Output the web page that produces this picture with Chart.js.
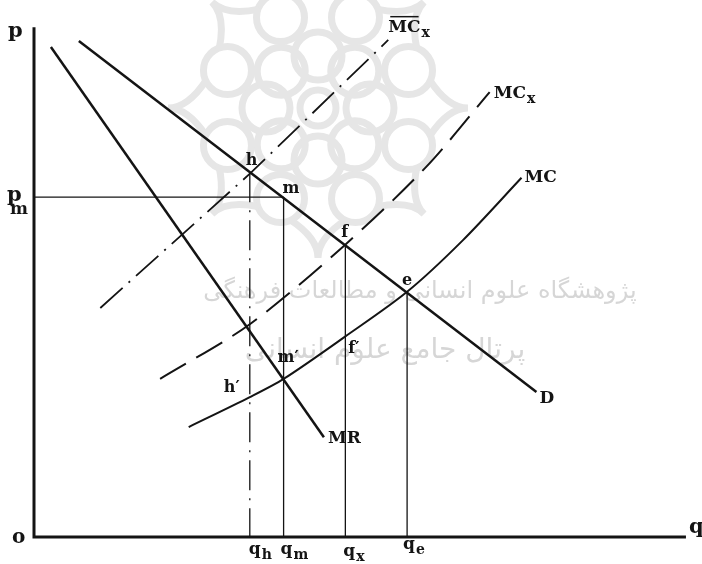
<!DOCTYPE html>
<html>
<head>
<meta charset="utf-8">
<script src="https://cdn.jsdelivr.net/npm/chart.js@4.4.1/dist/chart.umd.min.js"></script>
<style>
    html, body { margin: 0; padding: 0; background: #fff; }
    #wrap { width: 702px; height: 564px; }
</style>
</head>
<body>
<div id="wrap"><canvas id="chart" width="702" height="564"></canvas></div>
<script>
// Quantities and prices (axis units 0..100)
const qh = 33.2;
const qm = 38.4;
const qx = 47.9;
const qe = 57.4;
const pm = 67.1;

// Prices at the marked points
const hP = 72.0;     // h on D
const fP = 57.5;     // f on D
const eP = 48.2;     // e on D
const hLowP = 27.6;  // h' on MC
const mLowP = 31.2;  // m' on MC
const fLowP = 39.5;  // f' on MC

const axisTop = 100.6;
const axisRight = 100.3;

// Demand
const demandQ = [6.9, 77.3];
const demandP = [97.9, 28.6];

// Marginal revenue
const mrQ = [2.6, 44.6];
const mrP = [96.7, 19.7];

// Marginal cost
const mcQ = [23.8, 33.2, 38.4, 47.8, 57.4, 66.0, 75.0];
const mcP = [21.7, 27.6, 31.2, 39.5, 48.4, 58.6, 70.9];

// MC_x (dashed)
const mcxQ = [19.4, 33.2, 47.8, 60.3, 70.1];
const mcxP = [31.2, 42.0, 57.6, 73.0, 87.8];

// MC-bar_x (dash-dot)
const mcbarQ = [10.2, 33.3, 54.5];
const mcbarP = [45.2, 71.8, 98.1];

const pts = (xs, ys) => xs.map((x, i) => ({x: x, y: ys[i]}));

const INK = '#141414';
const DASH_DOT = [30, 8, 2, 8];

function line(data, width, extra) {
    return Object.assign({
        data: data,
        showLine: true,
        borderColor: INK,
        borderWidth: width,
        pointRadius: 0,
        fill: false,
        clip: false,
    }, extra || {});
}

const datasets = [
    // axes
    line([{x: 0, y: axisTop}, {x: 0, y: 0}, {x: axisRight, y: 0}], 3),
    line(pts(demandQ, demandP), 2.5),
    line(pts(mrQ, mrP), 2.5),
    line(pts(mcQ, mcP), 2, {tension: 0.3}),
    line(pts(mcxQ, mcxP), 2, {tension: 0.3, borderDash: [30, 12]}),
    line(pts(mcbarQ, mcbarP), 1.8, {borderDash: DASH_DOT}),
    // p_m guide
    line([{x: 0, y: pm}, {x: qm, y: pm}], 1.3),
    // verticals down to the quantity axis
    line([{x: qh, y: hP}, {x: qh, y: 0}], 1.3, {borderDash: DASH_DOT}),
    line([{x: qm, y: pm}, {x: qm, y: 0}], 1.3),
    line([{x: qx, y: fP}, {x: qx, y: 0}], 1.3),
    line([{x: qe, y: eP}, {x: qe, y: 0}], 1.3),
];

// text labels: anchor in data units, offset in pixels
const labels = [
    {t: 'p', q: 0, p: axisTop, dx: -26, dy: 10, size: 21},
    {t: 'p', sub: 'm', subBelow: true, q: 0, p: pm, dx: -27, dy: 4, size: 21},
    {t: 'o', q: 0, p: 0, dx: -22, dy: 6, size: 20},
    {t: 'q', q: axisRight, p: 0, dx: 3, dy: -4, size: 21},
    {t: 'q', sub: 'h', q: qh, p: 0, dx: -1, dy: 17, size: 17},
    {t: 'q', sub: 'm', q: qm, p: 0, dx: -3, dy: 17, size: 17},
    {t: 'q', sub: 'x', q: qx, p: 0, dx: -2, dy: 19, size: 17},
    {t: 'q', sub: 'e', q: qe, p: 0, dx: -4, dy: 12, size: 17},
    {t: 'h', q: qh, p: hP, dx: -4, dy: -7, size: 16},
    {t: 'm', q: qm, p: pm, dx: -1, dy: -4, size: 16},
    {t: 'f', q: qx, p: fP, dx: -4, dy: -9, size: 16},
    {t: 'e', q: qe, p: eP, dx: -5, dy: -8, size: 16},
    {t: 'h\u2032', q: qh, p: hLowP, dx: -26, dy: -5, size: 16},
    {t: 'm\u2032', q: qm, p: mLowP, dx: -6, dy: -17, size: 16},
    {t: 'f\u2032', q: qx, p: fLowP, dx: 3, dy: 16, size: 16},
    {t: 'MR', q: mrQ[1], p: mrP[1], dx: 4, dy: 6, size: 17},
    {t: 'D', q: demandQ[1], p: demandP[1], dx: 3, dy: 11, size: 17},
    {t: 'MC', q: mcQ[mcQ.length - 1], p: mcP[mcP.length - 1], dx: 3, dy: 4, size: 17},
    {t: 'MC', sub: 'x', q: mcxQ[mcxQ.length - 1], p: mcxP[mcxP.length - 1], dx: 4, dy: 6, size: 17},
    {t: 'MC', sub: 'x', bar: true, q: mcbarQ[mcbarQ.length - 1], p: mcbarP[mcbarP.length - 1], dx: 0, dy: -8, size: 17},
];

const SERIF = '"DejaVu Serif", "Liberation Serif", serif';

// faint watermark of the source scan
const watermark = {
    id: 'watermark',
    beforeDatasetsDraw(chart) {
        const ctx = chart.ctx;
        ctx.save();
        ctx.strokeStyle = '#e6e6e6';
        ctx.lineWidth = 7;
        const cx = 318, cy = 108;
        for (let i = 0; i < 8; i++) {
            const a = i * Math.PI / 4;
            ctx.beginPath();
            ctx.arc(cx + Math.cos(a) * 52, cy + Math.sin(a) * 52, 24, 0, Math.PI * 2);
            ctx.stroke();
            const b = a + Math.PI / 8;
            ctx.beginPath();
            ctx.arc(cx + Math.cos(b) * 98, cy + Math.sin(b) * 98, 24, 0, Math.PI * 2);
            ctx.stroke();
            // pointed tips
            ctx.beginPath();
            ctx.moveTo(cx + Math.cos(a - 0.25) * 115, cy + Math.sin(a - 0.25) * 115);
            ctx.quadraticCurveTo(cx + Math.cos(a) * 130, cy + Math.sin(a) * 130,
                cx + Math.cos(a) * 150, cy + Math.sin(a) * 150);
            ctx.quadraticCurveTo(cx + Math.cos(a) * 130, cy + Math.sin(a) * 130,
                cx + Math.cos(a + 0.25) * 115, cy + Math.sin(a + 0.25) * 115);
            ctx.stroke();
        }
        ctx.beginPath();
        ctx.arc(cx, cy, 18, 0, Math.PI * 2);
        ctx.stroke();

        ctx.fillStyle = '#d6d6d6';
        ctx.textAlign = 'center';
        ctx.textBaseline = 'alphabetic';
        ctx.direction = 'rtl';
        ctx.font = '24px "DejaVu Sans", sans-serif';
        ctx.fillText('پژوهشگاه علوم انسانی و مطالعات فرهنگی', 420, 298);
        ctx.font = '28px "DejaVu Sans", sans-serif';
        ctx.fillText('پرتال جامع علوم انسانی', 385, 358);
        ctx.restore();
    },
};

const textLabels = {
    id: 'textLabels',
    afterDatasetsDraw(chart) {
        const ctx = chart.ctx;
        const xs = chart.scales.x;
        const ys = chart.scales.y;
        ctx.save();
        ctx.fillStyle = INK;
        ctx.strokeStyle = INK;
        ctx.textBaseline = 'alphabetic';
        ctx.textAlign = 'left';
        labels.forEach((l) => {
            const x = xs.getPixelForValue(l.q) + l.dx;
            const y = ys.getPixelForValue(l.p) + l.dy;
            ctx.font = 'bold ' + l.size + 'px ' + SERIF;
            ctx.fillText(l.t, x, y);
            const w = ctx.measureText(l.t).width;
            if (l.bar) {
                ctx.lineWidth = 1.5;
                ctx.beginPath();
                ctx.moveTo(x + 2, y - l.size * 0.9);
                ctx.lineTo(x + w - 2, y - l.size * 0.9);
                ctx.stroke();
            }
            if (l.sub) {
                ctx.font = 'bold ' + Math.round(l.size * 0.8) + 'px ' + SERIF;
                if (l.subBelow) {
                    ctx.fillText(l.sub, x + 3, y + 13);
                } else {
                    ctx.fillText(l.sub, x + w + 1, y + 5);
                }
            }
        });
        ctx.restore();
    },
};

new Chart(document.getElementById('chart'), {
    type: 'scatter',
    data: {datasets: datasets},
    options: {
        responsive: false,
        animation: false,
        devicePixelRatio: 1,
        layout: {padding: {left: 34, right: 18, top: 5, bottom: 27}},
        plugins: {legend: {display: false}, tooltip: {enabled: false}},
        scales: {
            x: {type: 'linear', min: 0, max: 100, display: false},
            y: {type: 'linear', min: 0, max: 105, display: false},
        },
    },
    plugins: [watermark, textLabels],
});
</script>
</body>
</html>
